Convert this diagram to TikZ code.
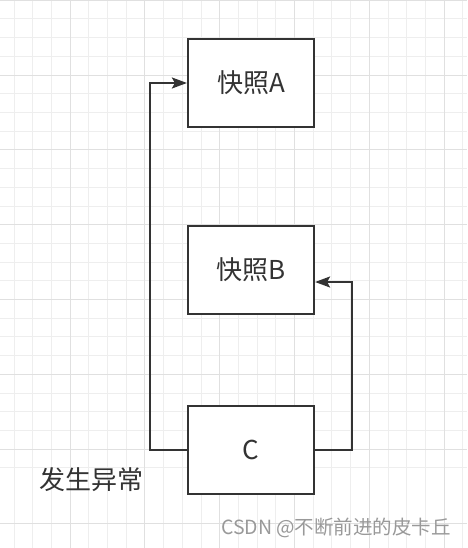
\documentclass[tikz,border=0pt]{standalone}
\usepackage{fontspec}
\setmainfont{Noto Sans CJK SC}
\usetikzlibrary{arrows.meta}

\definecolor{gridminor}{HTML}{EEEEEE}
\definecolor{gridmajor}{HTML}{E0E0E0}
\definecolor{linegray}{HTML}{333333}

\tikzset{
    snapbox/.style={draw=linegray, line width=2.2pt, fill=white, minimum width=126pt,
        minimum height=88pt, inner sep=0pt, font=\fontsize{26}{30}\selectfont, text=linegray},
    flow/.style={draw=linegray, line width=2.2pt,
        -{Stealth[length=15pt, width=11pt, inset=3pt]}},
}

\begin{document}
\begin{tikzpicture}[x=1pt, y=-1pt]
        \useasboundingbox (0,0) rectangle (467,548);
        \fill[white] (0,0) rectangle (467,548);

        % Grid
        \foreach \i in {0,...,25} {
            \pgfmathsetmacro{\gx}{-4.8 + \i*18.7}
            \pgfmathsetmacro{\gy}{0.2 + \i*18.7}
            \draw[gridminor, line width=0.8pt] (\gx,0) -- (\gx,548);
            \draw[gridminor, line width=0.8pt] (0,\gy) -- (467,\gy);
        }
        \foreach \i in {0,...,7} {
            \pgfmathsetmacro{\gx}{-4.8 + \i*74.8}
            \pgfmathsetmacro{\gy}{0.2 + \i*74.8}
            \draw[gridmajor, line width=0.8pt] (\gx,0) -- (\gx,548);
            \draw[gridmajor, line width=0.8pt] (0,\gy) -- (467,\gy);
        }

        % Boxes
        \node[snapbox] (snapA) at (251,83) {快照A};
        \node[snapbox] (snapB) at (251,270) {快照B};
        \node[snapbox] (stateC) at (251,450) {C};

        % Connectors
        \draw[flow] (stateC.west) -- ++(-37,0) |- (snapA.west);
        \draw[flow] (stateC.east) -- ++(37,0) |- ([yshift=-12pt]snapB.east);

        % Labels
        \node[font=\fontsize{26}{30}\selectfont, text=linegray] (fault) at (91,480) {发生异常};
        \node[font=\fontsize{19.5}{22}\selectfont, text=black!40] (mark) at (336,528) {CSDN @不断前进的皮卡丘};

    \end{tikzpicture}
\end{document}
